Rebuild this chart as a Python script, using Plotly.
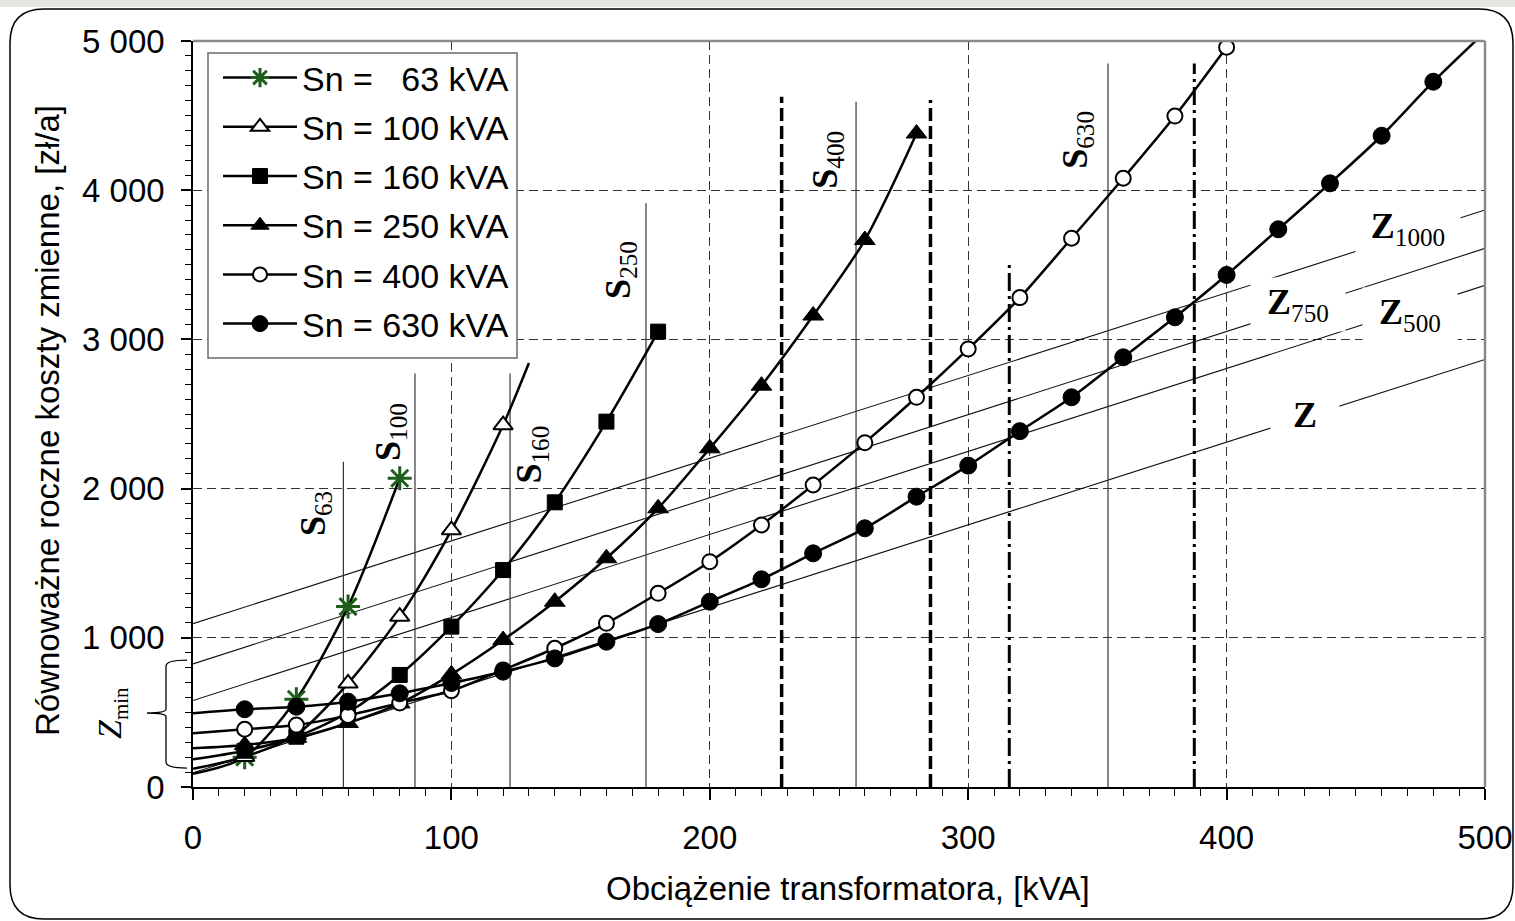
import plotly.graph_objects as go

# ---------------- data ----------------
x_63 = [0, 20, 40, 60, 80]
y_63 = [88, 200, 588, 1209, 2069]

x_100 = [0, 20, 40, 60, 80, 100, 120, 130]
y_100 = [122, 203, 350, 695, 1142, 1722, 2426, 2842]

x_160 = [0, 20, 40, 60, 80, 100, 120, 140, 160, 180]
y_160 = [186, 243, 337, 500, 751, 1075, 1454, 1908, 2449, 3052]

x_250 = [0, 20, 40, 60, 80, 100, 120, 140, 160, 180, 200, 220, 240, 260, 280]
y_250 = [259, 281, 330, 429, 560, 755, 985, 1242, 1533, 1868, 2270, 2690, 3160, 3666, 4380]

x_400 = list(range(0, 401, 20))
y_400 = [360, 387, 415, 480, 563, 645, 785, 930, 1097, 1298, 1510, 1756, 2024, 2308,
         2612, 2936, 3280, 3678, 4080, 4497, 4958]

x_630 = list(range(0, 501, 20))
y_630 = [494, 521, 538, 572, 628, 697, 773, 862, 974, 1092, 1242, 1392, 1566, 1734,
         1946, 2154, 2385, 2612, 2880, 3148, 3432, 3738, 4046, 4365, 4727, 5060]

legend_names = ["Sn = \u00a0\u00a063 kVA", "Sn = 100 kVA", "Sn = 160 kVA",
                "Sn = 250 kVA", "Sn = 400 kVA", "Sn = 630 kVA"]

# cost lines Z, Z500, Z750, Z1000 (values at x=0 and x=500)
z_x = [0, 500]
z_names = ["", "500", "750", "1000"]
z_vals = [[95, 2865], [580, 3362], [825, 3610], [1095, 3867]]
z_lab_x = [430.3, 471.0, 427.8, 470.3]
z_lab_y = [2493, 3164, 3231, 3745]

# optimal load lines S
s_names = ["63", "100", "160", "250", "400", "630"]
s_x = [58.2, 85.9, 122.7, 175.3, 256.6, 354.1]
s_top = [2180, 2772, 2772, 3912, 4593, 4850]
s_lab_x = [47.2, 76.2, 131.0, 165.2, 245.2, 342.0]
s_lab_y = [1836, 2379, 2225, 3465, 4202, 4336]

# thick boundary lines
dash_x = [227.8, 285.4]
dash_top = [4627, 4605]
dashdot_x = [315.9, 387.5]
dashdot_top = [3499, 4850]

# Zmin brace range
zmin_lo, zmin_mid, zmin_hi = 127, 496, 851

x_ticks = [0, 100, 200, 300, 400, 500]
y_ticks = [0, 1000, 2000, 3000, 4000, 5000]

# ---------------- layout geometry ----------------
W_FIG, H_FIG = 1515, 921
PL, PR, PT, PB = 193, 1485, 41, 787
PW, PH = PR - PL, PB - PT


def pxx(p):
    return (p - PL) / PW


def pxy(p):
    return (PB - p) / PH


SANS = "Liberation Sans, Arial, sans-serif"
SERIF = "Liberation Serif, Times New Roman, serif"
GREEN = "#1d5e1d"

fig = go.Figure()

# Z lines
for zv in z_vals:
    fig.add_trace(go.Scatter(x=z_x, y=zv, mode="lines", showlegend=False,
                             line=dict(color="#111", width=1.1), hoverinfo="skip"))
# S lines
for sx, st in zip(s_x, s_top):
    fig.add_trace(go.Scatter(x=[sx, sx], y=[0, st], mode="lines", showlegend=False,
                             line=dict(color="#333", width=1.2), hoverinfo="skip"))
for sx, st in zip(dash_x, dash_top):
    fig.add_trace(go.Scatter(x=[sx, sx], y=[0, st], mode="lines", showlegend=False,
                             line=dict(color="#000", width=3.5, dash="13px,5px"),
                             hoverinfo="skip"))
for sx, st in zip(dashdot_x, dashdot_top):
    fig.add_trace(go.Scatter(x=[sx, sx], y=[0, st], mode="lines", showlegend=False,
                             line=dict(color="#000", width=3, dash="18px,5px,3px,5px"),
                             hoverinfo="skip"))


def msizes(xs, s):
    return [s if (x > 0 and x % 20 == 0 and x < 500) else 0 for x in xs]


series = [
    (x_63, y_63, dict(symbol="asterisk-open", color=GREEN, line=dict(color=GREEN, width=3)), 20, 17),
    (x_100, y_100, dict(symbol="triangle-up", color="white", line=dict(color="black", width=2)), 17, 16),
    (x_160, y_160, dict(symbol="square", color="black", line=dict(color="black", width=1)), 15, 15),
    (x_250, y_250, dict(symbol="triangle-up", color="black", line=dict(color="black", width=1)), 18, 16),
    (x_400, y_400, dict(symbol="circle", color="white", line=dict(color="black", width=2)), 15, 14),
    (x_630, y_630, dict(symbol="circle", color="black", line=dict(color="black", width=1)), 17, 16),
]
for i, ((xs, ys, mk, sz, lsz), nm) in enumerate(zip(series, legend_names)):
    mk_d = dict(mk)
    mk_d["size"] = msizes(xs, sz)
    mk_d["opacity"] = 1
    fig.add_trace(go.Scatter(x=xs, y=ys, mode="lines+markers", name=nm, showlegend=False,
                             line=dict(color="black", width=2.5, shape="spline", smoothing=0.8),
                             marker=mk_d))
    # legend entry (no data of its own)
    mk_l = dict(mk)
    mk_l["size"] = lsz
    mk_l["opacity"] = 1
    fig.add_trace(go.Scatter(x=[None], y=[None], mode="lines+markers", name=nm,
                             legendgroup="g%d" % i, showlegend=True,
                             line=dict(color="black", width=2.5), marker=mk_l))

annotations = []
# S labels
for nm, lx, ly in zip(s_names, s_lab_x, s_lab_y):
    annotations.append(dict(x=lx, y=ly, xref="x", yref="y", showarrow=False, textangle=-90,
                            xanchor="center", yanchor="middle",
                            text="<b>S</b><sub>" + nm + "</sub>",
                            font=dict(family=SERIF, size=36, color="black")))
# Z labels (white boxes break the lines)
z_w = [60, 86, 86, 96]
for nm, lx, ly, w in zip(z_names, z_lab_x, z_lab_y, z_w):
    annotations.append(dict(x=lx, y=ly, xref="x", yref="y", showarrow=False,
                            xanchor="center", yanchor="middle",
                            text="<b>Z</b>" + ("<sub>" + nm + "</sub>" if nm else ""),
                            font=dict(family=SERIF, size=36, color="black"),
                            bgcolor="white", borderpad=4, width=w, align="center"))
# Zmin
annotations.append(dict(x=pxx(112), y=zmin_mid, xref="paper", yref="y", showarrow=False,
                        xanchor="center", yanchor="middle", textangle=-90,
                        text="<i>Z</i><sub><span style='font-size:21px'>min</span></sub>",
                        font=dict(family=SERIF, size=34, color="black")))
# axis titles
annotations.append(dict(x=pxx(848), y=pxy(888), xref="paper", yref="paper", showarrow=False,
                        xanchor="center", yanchor="middle",
                        text="Obciążenie transformatora, [kVA]",
                        font=dict(family=SANS, size=33, color="black")))
annotations.append(dict(x=pxx(47), y=pxy(421), xref="paper", yref="paper", showarrow=False,
                        xanchor="center", yanchor="middle",
                        textangle=-90, text="Równoważne roczne koszty zmienne, [zł/a]",
                        font=dict(family=SANS, size=33, color="black")))

shapes = []
# top gray band of the page
shapes.append(dict(type="rect", xref="paper", yref="paper", x0=pxx(0), x1=pxx(W_FIG),
                   y0=pxy(0), y1=pxy(7), line=dict(width=0), fillcolor="#e4e5e0", layer="below"))
# rounded outer frame
x0, x1, y0, y1, r = 10, 1513, 9, 919, 34
pts = [("M", x0 + r, y0), ("L", x1 - r, y0), ("Q", x1, y0, x1, y0 + r), ("L", x1, y1 - r),
       ("Q", x1, y1, x1 - r, y1), ("L", x0 + r, y1), ("Q", x0, y1, x0, y1 - r),
       ("L", x0, y0 + r), ("Q", x0, y0, x0 + r, y0)]
path = ""
for p in pts:
    cmd = p[0]
    coords = p[1:]
    seg = []
    for i in range(0, len(coords), 2):
        seg.append(f"{pxx(coords[i]):.5f},{pxy(coords[i + 1]):.5f}")
    path += cmd + " ".join(seg) + " "
path += "Z"
shapes.append(dict(type="path", xref="paper", yref="paper", path=path,
                   line=dict(color="black", width=1.5)))
# plot area top / right border (gray)
shapes.append(dict(type="line", xref="paper", yref="paper", x0=0, x1=1, y0=1, y1=1,
                   line=dict(color="#8a8a8a", width=2.5)))
shapes.append(dict(type="line", xref="paper", yref="paper", x0=1, x1=1, y0=0, y1=1,
                   line=dict(color="#8a8a8a", width=2.5)))
# legend box
shapes.append(dict(type="rect", xref="paper", yref="paper", x0=pxx(208), x1=pxx(517),
                   y0=pxy(358), y1=pxy(53), fillcolor="white",
                   line=dict(color="#6a6a6a", width=1.5), layer="above"))
# Zmin brace
bx_tip, bx_sp, bx_pt = pxx(187), pxx(166), pxx(147)
span = zmin_hi - zmin_lo
c1 = span * 0.028
c2 = span * 0.018
brace = (f"M{bx_tip},{zmin_hi} Q{bx_sp},{zmin_hi} {bx_sp},{zmin_hi - 2 * c1} "
         f"L{bx_sp},{zmin_mid + 2 * c2} Q{bx_sp},{zmin_mid} {bx_pt},{zmin_mid} "
         f"Q{bx_sp},{zmin_mid} {bx_sp},{zmin_mid - 2 * c2} "
         f"L{bx_sp},{zmin_lo + 2 * c1} Q{bx_sp},{zmin_lo} {bx_tip},{zmin_lo}")
shapes.append(dict(type="path", xref="paper", yref="y", path=brace,
                   line=dict(color="black", width=1.3)))

fig.update_layout(
    width=W_FIG, height=H_FIG, autosize=False,
    margin=dict(l=PL, r=W_FIG - PR, t=PT, b=H_FIG - PB, autoexpand=False),
    paper_bgcolor="white", plot_bgcolor="white",
    separators=", ",
    font=dict(family=SANS, size=33, color="black"),
    showlegend=True,
    legend=dict(x=pxx(218), y=pxy(49), xanchor="left", yanchor="top",
                bgcolor="rgba(0,0,0,0)", borderwidth=0,
                font=dict(family=SANS, size=34, color="black"),
                itemwidth=74, itemsizing="trace", tracegroupgap=2),
    xaxis=dict(range=[0, 500], tickvals=x_ticks, showgrid=True, gridcolor="#333",
               griddash="9px,5px", gridwidth=1, zeroline=False, showline=True,
               linecolor="black", linewidth=1.5, ticks="outside", ticklen=11,
               tickwidth=1.5, tickcolor="black", ticklabelstandoff=10,
               tickfont=dict(family=SANS, size=33, color="black"),
               minor=dict(dtick=10, ticks="outside", ticklen=7, tickwidth=1.2,
                          tickcolor="black", showgrid=False)),
    yaxis=dict(range=[0, 5000], tickvals=y_ticks, tickformat=",d", showgrid=True,
               gridcolor="#333", griddash="9px,5px", gridwidth=1, zeroline=False,
               showline=True, linecolor="black", linewidth=1.5, ticks="outside",
               ticklen=10, tickwidth=1.5, tickcolor="black", ticklabelstandoff=10,
               tickfont=dict(family=SANS, size=33, color="black"),
               minor=dict(dtick=100, ticks="outside", ticklen=6, tickwidth=1.2,
                          tickcolor="black", showgrid=False)),
    annotations=annotations,
    shapes=shapes,
)

fig.write_html("out.html", config={"responsive": False},
               post_script="document.documentElement.style.overflow='hidden';"
                           "document.body.style.margin='0';document.body.style.overflow='hidden';")
